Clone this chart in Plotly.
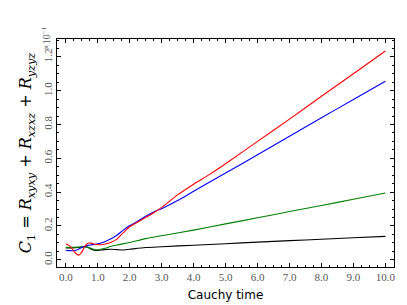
import plotly.graph_objects as go

t_red = [0, 0.1, 0.2, 0.3, 0.4, 0.5, 0.6, 0.7, 0.8, 0.9, 1.0, 1.2, 1.4, 1.6, 1.8, 2.0, 2.2, 2.4, 2.6, 2.8, 3.0, 3.5, 4, 4.5, 5, 6, 7, 8, 9, 10]
c_red = [0.093, 0.085, 0.065, 0.040, 0.027, 0.045, 0.080, 0.097, 0.098, 0.092, 0.089, 0.092, 0.102, 0.122, 0.160, 0.195, 0.217, 0.240, 0.260, 0.284, 0.310, 0.384, 0.447, 0.505, 0.568, 0.700, 0.832, 0.967, 1.100, 1.235]

t_blue = [0, 0.1, 0.2, 0.3, 0.4, 0.5, 0.6, 0.7, 0.8, 0.9, 1.0, 1.2, 1.4, 1.6, 1.8, 2.0, 2.2, 2.4, 2.6, 2.8, 3.0, 3.5, 4, 5, 6, 7, 8, 9, 10]
c_blue = [0.055, 0.054, 0.053, 0.055, 0.062, 0.072, 0.080, 0.085, 0.088, 0.091, 0.094, 0.105, 0.122, 0.145, 0.175, 0.202, 0.222, 0.245, 0.268, 0.287, 0.302, 0.350, 0.405, 0.513, 0.621, 0.730, 0.840, 0.948, 1.056]

t_green = [0, 0.2, 0.4, 0.6, 0.7, 0.8, 0.9, 1.0, 1.2, 1.4, 1.6, 2.0, 2.5, 3, 4, 5, 6, 7, 8, 9, 10]
c_green = [0.073, 0.073, 0.074, 0.075, 0.073, 0.066, 0.060, 0.059, 0.066, 0.078, 0.087, 0.102, 0.125, 0.142, 0.175, 0.212, 0.248, 0.285, 0.321, 0.358, 0.395]

t_black = [0, 0.2, 0.4, 0.6, 0.7, 0.8, 0.9, 1.0, 1.2, 1.4, 1.6, 1.8, 2.0, 2.5, 3, 4, 5, 6, 7, 8, 9, 10]
c_black = [0.069, 0.070, 0.073, 0.078, 0.072, 0.062, 0.056, 0.055, 0.060, 0.062, 0.060, 0.058, 0.062, 0.072, 0.077, 0.086, 0.095, 0.104, 0.113, 0.121, 0.130, 0.138]

x_ticks = [0, 1, 2, 3, 4, 5, 6, 7, 8, 9, 10]
x_tick_labels = ["0.0", "1.0", "2.0", "3.0", "4.0", "5.0", "6.0", "7.0", "8.0", "9.0", "10.0"]
y_ticks = [0.0, 0.2, 0.4, 0.6, 0.8, 1.0, 1.2]
y_tick_labels = ["0.0", "0.2", "0.4", "0.6", "0.8", "1.0", "1.2"]

fig = go.Figure()
for t, c, col in [(t_black, c_black, "black"), (t_green, c_green, "#008000"),
                  (t_blue, c_blue, "#0000ff"), (t_red, c_red, "#ff0000")]:
    fig.add_trace(go.Scatter(x=t, y=c, mode="lines", line=dict(color=col, width=1.1, shape="spline", smoothing=0.8),
                             showlegend=False, hoverinfo="skip"))

tickfont = dict(family="Liberation Serif", size=11, color="#555")
fig.update_xaxes(range=[-0.275, 10.27], tickvals=x_ticks, ticktext=x_tick_labels,
                 ticks="inside", ticklen=4, tickwidth=1, tickcolor="black",
                 minor=dict(dtick=0.25, ticks="inside", ticklen=2, tickcolor="black", showgrid=False),
                 showline=True, linecolor="black", linewidth=1, mirror="allticks",
                 showgrid=False, zeroline=False, tickfont=tickfont,
                 title=dict(text="Cauchy time", font=dict(family="DejaVu Sans", size=12, color="black"), standoff=8))
ytitle = ("<i>C</i><sub>1</sub>&nbsp;=&nbsp;<i>R</i><sub><i>xyxy</i></sub>&nbsp;+&nbsp;"
          "<i>R</i><sub><i>xzxz</i></sub>&nbsp;+&nbsp;<i>R</i><sub><i>yzyz</i></sub>")
fig.update_yaxes(range=[-0.043, 1.306], tickvals=y_ticks, ticktext=y_tick_labels, tickangle=-90,
                 ticks="inside", ticklen=4, tickwidth=1, tickcolor="black",
                 minor=dict(dtick=0.05, ticks="inside", ticklen=2, tickcolor="black", showgrid=False),
                 showline=True, linecolor="black", linewidth=1, mirror="allticks",
                 showgrid=False, zeroline=False, tickfont=tickfont,
                 title=dict(text=ytitle, font=dict(family="DejaVu Serif", size=16, color="black"), standoff=5))
fig.add_annotation(x=0, xref="paper", xanchor="center", xshift=-11, y=1.2, yref="y", yanchor="bottom", yshift=5,
                   text="×10<sup>−1</sup>", textangle=-90, showarrow=False,
                   font=dict(family="Liberation Serif", size=10, color="#555"))
fig.update_layout(width=407, height=305, margin=dict(l=49, r=21, t=31, b=46),
                  plot_bgcolor="white", paper_bgcolor="white")
fig.write_html("out.html")
